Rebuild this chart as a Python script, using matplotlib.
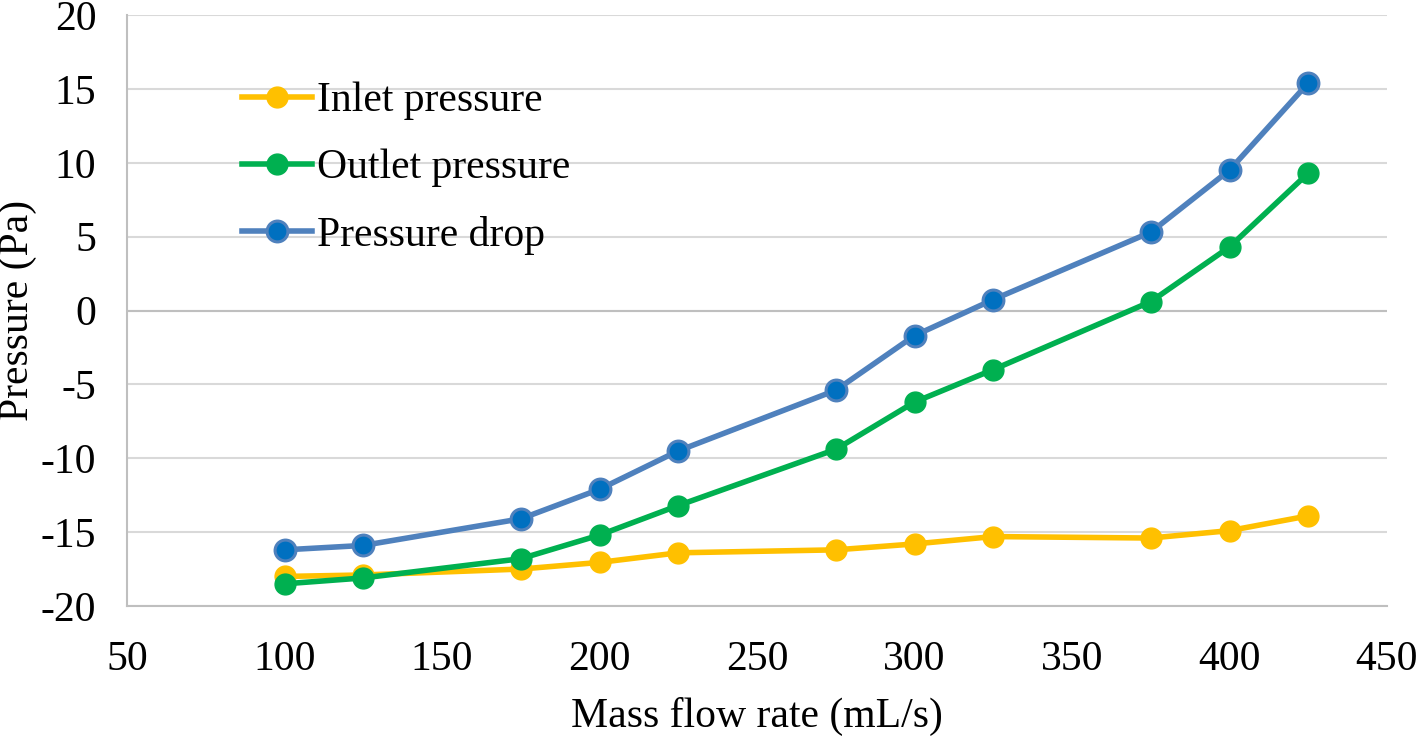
import matplotlib
matplotlib.use("Agg")
import matplotlib.pyplot as plt

flow = [100, 125, 175, 200, 225, 275, 300, 325, 375, 400, 425]
inlet = [-18.0, -17.9, -17.5, -17.05, -16.4, -16.2, -15.8, -15.3, -15.4, -14.9, -13.9]
outlet = [-18.5, -18.1, -16.8, -15.2, -13.2, -9.4, -6.2, -4.0, 0.6, 4.3, 9.3]
drop = [-16.2, -15.9, -14.1, -12.1, -9.5, -5.4, -1.7, 0.74, 5.3, 9.5, 15.4]
xticks = [50, 100, 150, 200, 250, 300, 350, 400, 450]
yticks = [-20, -15, -10, -5, 0, 5, 10, 15, 20]

plt.rcParams['font.family'] = ['Liberation Serif', 'DejaVu Serif']
plt.rcParams['axes.unicode_minus'] = False
fs = 30

fig = plt.figure(figsize=(14.18, 7.37), dpi=100)
ax = fig.add_axes([127/1418, 1-606/737, (1387-127)/1418, (606-15)/737])

ax.plot(flow, inlet, color='#FFC000', lw=4, marker='o', ms=15, mfc='#FFC000', mec='#FFC000', label='Inlet pressure', zorder=3)
ax.plot(flow, outlet, color='#00B050', lw=4, marker='o', ms=15, mfc='#00B050', mec='#00B050', label='Outlet pressure', zorder=4)
ax.plot(flow, drop, color='#4F81BD', lw=4, marker='o', ms=15, mfc='#0070C0', mec='#4F81BD', mew=2.2, label='Pressure drop', zorder=5)

ax.set_xlim(50, 450)
ax.set_ylim(-20, 20)
ax.set_xticks(xticks)
ax.set_yticks(yticks)
ax.tick_params(axis='y', length=0, labelsize=fs, colors='black', pad=22)
ax.tick_params(axis='x', length=0, labelsize=fs, colors='black', pad=25)
ax.grid(axis='y', color='#D9D9D9', lw=1.5)
ax.axhline(0, color='#BFBFBF', lw=1.5, zorder=1)
ax.set_axisbelow(True)
for s in ['top', 'right']:
    ax.spines[s].set_visible(False)
for s in ['left', 'bottom']:
    ax.spines[s].set_color('#BFBFBF')
    ax.spines[s].set_linewidth(1.5)

ax.set_xlabel('Mass flow rate (mL/s)', fontsize=fs, labelpad=13)
ax.set_ylabel('Pressure (Pa)', fontsize=fs, labelpad=3)

leg = ax.legend(loc='upper left', bbox_to_anchor=(0.078, 0.915), frameon=False, fontsize=fs,
                handlelength=1.68, handletextpad=0.12, labelspacing=0.68, borderaxespad=0)

fig.savefig('out.png', dpi=100)
